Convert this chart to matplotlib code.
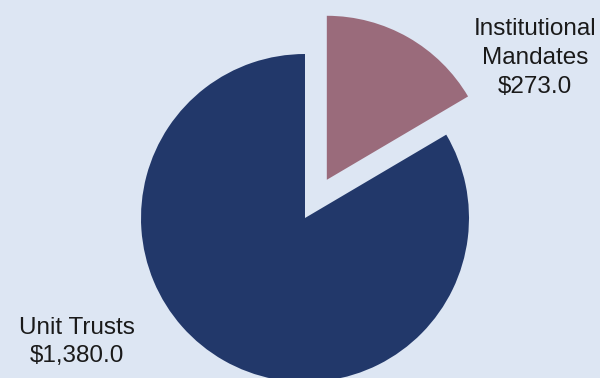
import matplotlib.pyplot as plt

# data
labels = ["Institutional\nMandates", "Unit Trusts"]
values = [273.0, 1380.0]
colors = ["#9a6b7b", "#22386a"]
bg = "#dde6f3"

fig = plt.figure(figsize=(6, 3.78), dpi=100, facecolor=bg)
ax = fig.add_axes([0, 0, 1, 1], facecolor=bg)

# pie in pixel-like units (y up)
ax.pie(values, colors=colors, startangle=90, counterclock=False,
       center=(305, 160), radius=164, explode=[44, 0],
       wedgeprops=dict(linewidth=0))

ax.set_xlim(0, 600)
ax.set_ylim(0, 378)
ax.set_aspect('equal')
ax.axis('off')

txt = dict(fontsize=17.5, family=["Liberation Sans", "DejaVu Sans"],
           color="#1a1a1a", ha="center", va="center", linespacing=1.4)
ax.text(535, 378 - 58, f"{labels[0]}\n${values[0]:,.1f}", **txt)
ax.text(77, 378 - 342, f"{labels[1]}\n${values[1]:,.1f}", **txt)

fig.savefig("out.png", dpi=100, facecolor=bg)
